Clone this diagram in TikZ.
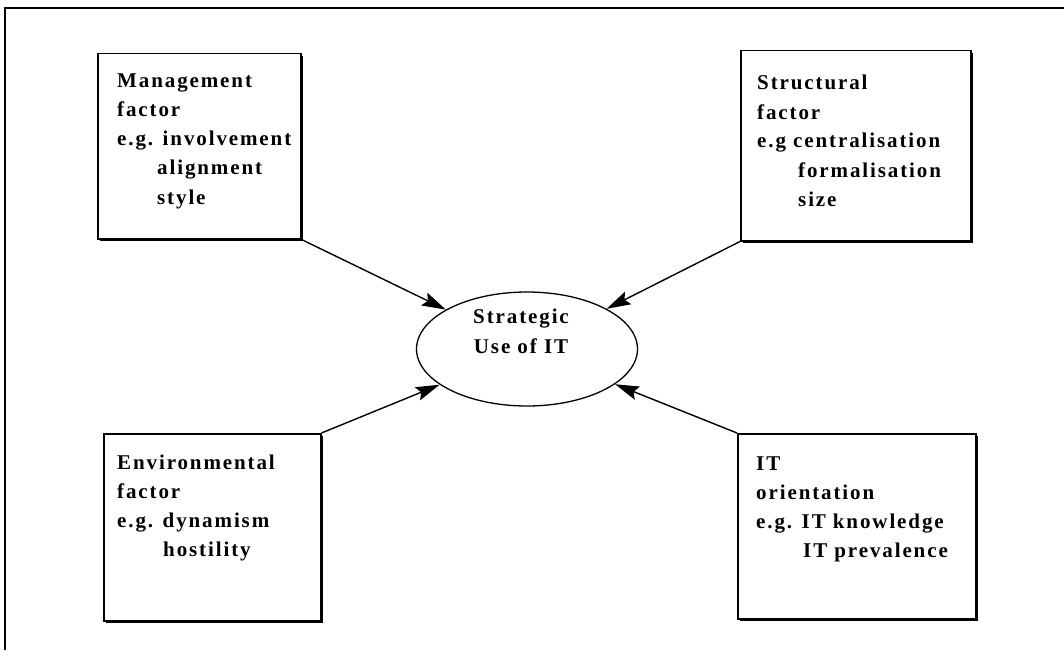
\documentclass[tikz,border=0pt]{standalone}
\usepackage{fontspec}
\usetikzlibrary{shapes.geometric,shadows,arrows.meta}
\newfontfamily\diagfont[LetterSpace=9]{Liberation Serif}
\newcommand{\ind}[1]{\hspace*{#1pt}}
\begin{document}
\begin{tikzpicture}[x=1pt,y=-1pt,
  factorbox/.style={draw, line width=1.5pt, fill=white, anchor=north west,
    inner sep=0pt, drop shadow={shadow xshift=2.5pt, shadow yshift=-2.5pt, fill=black, opacity=1}},
  boxtext/.style={anchor=base west, inner sep=0pt,
    font=\diagfont\bfseries\fontsize{21}{29}\selectfont},
  flow/.style={line width=1.4pt, -{Stealth[length=24pt, width=14pt, inset=4pt]}}]
\useasboundingbox (0,0) rectangle (1064,650);

% open frame round the figure
\draw[line width=2pt] (1064,8) -- (5,8) -- (5,650);

% central construct
\node[draw, ellipse, line width=1.3pt, minimum width=221pt, minimum height=114pt, inner sep=0pt]
  (use) at (527,349) {};
\node[anchor=base, inner sep=0pt, font=\diagfont\bfseries\fontsize{21}{30}\selectfont]
  (usetext) at (521,323) {\begin{tabular}[t]{@{}c@{}}Strategic\\Use of IT\end{tabular}};

% the four factors
\node[factorbox, minimum width=203pt, minimum height=185pt] (mgmt) at (97,53) {};
\node[boxtext] (mgmttext) at (117,88) {\begin{tabular}[t]{@{}l@{}}Management\\factor\\e.g. involvement\\\ind{40}alignment\\\ind{40}style\end{tabular}};

\node[factorbox, minimum width=230pt, minimum height=190pt] (struct) at (740,50) {};
\node[boxtext] (structtext) at (757,90) {\begin{tabular}[t]{@{}l@{}}Structural\\factor\\e.g centralisation\\\ind{41}formalisation\\\ind{41}size\end{tabular}};

\node[factorbox, minimum width=217pt, minimum height=187pt] (env) at (103,433) {};
\node[boxtext] (envtext) at (117,469) {\begin{tabular}[t]{@{}l@{}}Environmental\\factor\\e.g. dynamism\\\ind{46}hostility\end{tabular}};

\node[factorbox, minimum width=238pt, minimum height=185pt] (itor) at (737,433) {};
\node[boxtext] (ittext) at (756,470) {\begin{tabular}[t]{@{}l@{}}IT\\orientation\\e.g. IT knowledge\\\ind{47}IT prevalence\end{tabular}};

% influences on strategic use
\draw[flow] (mgmt.south east) -- (use);
\draw[flow] (struct.south west) -- (use);
\draw[flow] (env.north east) -- (use);
\draw[flow] (itor.north west) -- (use);
\end{tikzpicture}
\end{document}
